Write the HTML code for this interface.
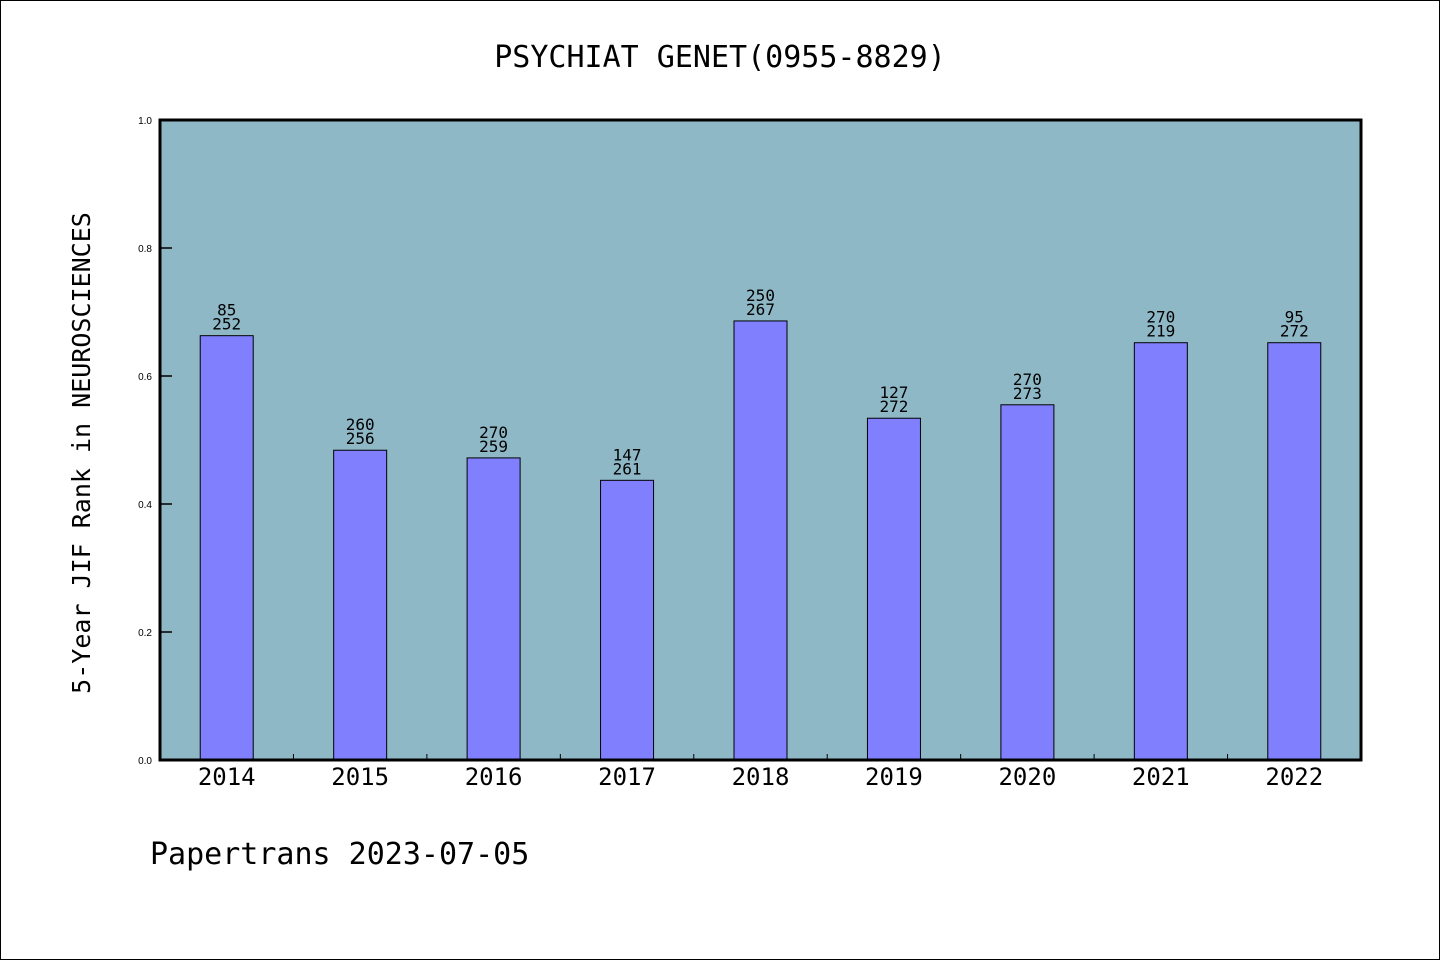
<!DOCTYPE html>
<html><head><meta charset="utf-8"><style>
html,body{margin:0;padding:0;background:#fff}
svg{display:block}
text{font-family:"DejaVu Sans Mono","Liberation Mono",monospace;fill:#000}
</style></head><body>
<svg width="1440" height="960" xmlns="http://www.w3.org/2000/svg">
<rect x="0.5" y="0.5" width="1439" height="959" fill="#fff" stroke="#000"/>
<text x="720" y="67" font-size="30" text-anchor="middle">PSYCHIAT GENET(0955-8829)</text>
<rect x="160" y="120" width="1201" height="640" fill="#8fb8c7"/>
<g id="marks"></g>
<rect x="160" y="120" width="1201" height="640" fill="none" stroke="#000" stroke-width="3"/>
<text transform="translate(90,453) rotate(-90)" font-size="25" text-anchor="middle">5-Year JIF Rank in NEUROSCIENCES</text>
<text x="150" y="864" font-size="30">Papertrans 2023-07-05</text>
</svg>
<script>
const categories=["2014","2015","2016","2017","2018","2019","2020","2021","2022"];
const values=[0.663,0.484,0.472,0.437,0.686,0.534,0.555,0.652,0.652];
const topLabels=["85","260","270","147","250","127","270","270","95"];
const bottomLabels=["252","256","259","261","267","272","273","219","272"];
const yTicks=[0,0.2,0.4,0.6,0.8,1.0];
const X0=160,X1=1361,Y0=760,Y1=120;
const step=(X1-X0)/categories.length;
function xc(i){return X0+step*(i+0.5);}
function y(v){return Y0-(Y0-Y1)*v;}
const NS="http://www.w3.org/2000/svg";
const g=document.getElementById('marks');
function mk(t,a){const e=document.createElementNS(NS,t);for(const k in a)e.setAttribute(k,a[k]);g.appendChild(e);return e;}
yTicks.forEach(v=>{
  const l=mk('line',{x1:X0,x2:X0+12,y1:y(v),y2:y(v),stroke:'#000','stroke-width':1.5});
  
  
  const t=mk('text',{x:152,y:y(v)+4,'font-size':10,'text-anchor':'end','style':'font-family:"Liberation Sans",sans-serif'});
  t.textContent=v.toFixed(1);
  
  
});
for(let i=1;i<categories.length;i++){
  const x=X0+step*i;
  const l=mk('line',{x1:x,x2:x,y1:Y0,y2:Y0-6,stroke:'#000','stroke-width':1});
  
  
}
categories.forEach((c,i)=>{
  const w=53,cx=xc(i),top=y(values[i]);
  const r=mk('rect',{x:cx-w/2,y:top,width:w,height:Y0-top,fill:'#8080ff',stroke:'#000','stroke-width':1});
  
  
  const t1=mk('text',{x:cx,y:top-20,'font-size':16,'text-anchor':'middle'});
  t1.textContent=topLabels[i];
  
  
  const t2=mk('text',{x:cx,y:top-6,'font-size':16,'text-anchor':'middle'});
  t2.textContent=bottomLabels[i];
  
  
  const xl=mk('text',{x:cx,y:785,'font-size':24,'text-anchor':'middle'});
  xl.textContent=c;
  
  
});
</script>
</body></html>
